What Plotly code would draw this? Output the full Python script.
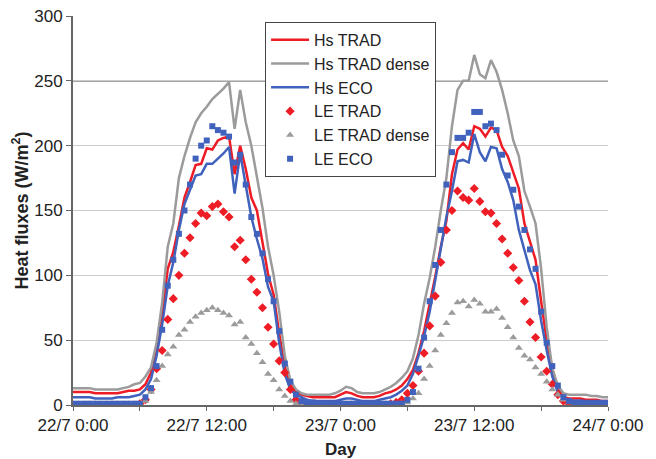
import pandas as pd
import plotly.graph_objects as go

# time axis: half-hourly from 22/7 0:00 to 24/7 0:00
TIME = pd.date_range("2009-07-22 00:00", periods=97, freq="30min")

HS_TRAD = [10,10,10,10,9,9,9,9,9,10,11,11,
           12,16,25,45,70,105,118,138,160,172,185,186,198,197,204,206,207,178,200,182,160,150,127,101,85,55,30,16,10,8,
           7,6,6,6,6,6,
           8,10,9,7,6,6,6,7,
           9,10,12,15,
           20,27,40,57,77,99,122,142,178,197,202,197,215,213,207,214,212,199,192,180,167,140,125,112,80,50,28,13,
           6,5,5,5,4,4,4,3,3]
HS_TRAD_DENSE = [13,13,13,13,12,12,12,12,12,13,14,16,
                 17,22,29,48,79,122,140,175,192,206,218,225,230,236,240,244,249,213,243,218,200,175,152,122,100,72,38,19,12,9,
                 8,8,8,8,8,9,
                 11,14,13,10,9,9,9,10,
                 12,14,17,21,
                 26,36,54,78,98,122,150,175,215,243,250,250,270,255,252,266,257,243,225,204,192,165,153,140,105,60,28,15,
                 9,8,8,8,8,7,7,6,6]
HS_ECO = [6,6,6,6,5,5,5,5,6,6,6,7,
          8,12,20,38,62,92,110,135,155,166,177,178,186,186,190,194,199,163,194,170,145,128,113,91,80,48,24,12,8,6,
          4,3,3,3,3,3,
          4,5,5,4,3,3,3,4,
          5,6,8,11,
          15,24,38,53,72,96,118,145,165,188,189,187,209,195,188,199,198,182,172,158,135,120,104,93,65,42,22,10,
          5,3,3,3,3,3,3,3,3]
LE_TRAD = [0,0,0,0,0,0,0,0,0,0,0,0,
           1,4,12,28,42,66,82,100,117,129,140,148,146,153,155,149,145,122,127,112,97,87,75,60,47,34,25,12,4,1,
           0,0,0,0,0,0,
           0,0,0,0,0,0,0,0,
           0,1,2,4,
           9,15,26,40,61,84,110,135,150,165,160,158,167,157,149,148,140,128,117,106,96,80,64,52,37,26,16,8,
           3,1,0,0,0,0,0,0,0]
LE_TRAD_DENSE = [0,0,0,0,0,0,0,0,0,0,0,0,
                 0,3,10,19,30,39,45,54,58,64,68,71,73,75,73,71,69,62,64,52,47,40,33,24,19,12,7,3,1,0,
                 0,0,0,0,0,0,
                 0,0,0,0,0,0,0,0,
                 0,0,0,1,
                 2,5,9,20,30,42,54,63,71,79,80,76,81,78,72,72,74,67,60,52,44,38,35,29,24,18,12,8,
                 4,2,1,0,0,0,0,0,0]
LE_ECO = [1,1,1,1,1,1,1,1,1,1,1,1,
          1,6,13,30,58,92,112,132,150,170,190,200,204,215,212,210,207,187,193,170,145,132,117,97,80,57,32,18,8,3,
          2,2,1,1,1,1,
          1,1,1,1,1,1,1,1,
          1,1,1,1,
          4,10,28,52,80,108,135,170,195,206,206,210,226,226,215,217,212,193,177,166,153,135,120,105,72,48,30,15,
          6,3,2,2,1,1,1,1,1]

TICK_VALS = ["2009-07-22 00:00", "2009-07-22 12:00", "2009-07-23 00:00",
             "2009-07-23 12:00", "2009-07-24 00:00"]
TICK_TEXT = ["22/7 0:00", "22/7 12:00", "23/7 0:00", "23/7 12:00", "24/7 0:00"]
MINOR_VALS = ["2009-07-22 06:00", "2009-07-22 18:00", "2009-07-23 06:00", "2009-07-23 18:00"]
Y_TICKS = [0, 50, 100, 150, 200, 250, 300]

RED = "#ee1c25"
GRAY = "#9b9b9b"
BLUE = "#4062bd"
FONT = "Liberation Sans, Arial, sans-serif"

fig = go.Figure()
fig.add_trace(go.Scatter(x=TIME, y=HS_TRAD, mode="lines", name="Hs TRAD",
                         line=dict(color=RED, width=2.5), legendgroup="a"))
fig.add_trace(go.Scatter(x=TIME, y=HS_TRAD_DENSE, mode="lines", name="Hs TRAD dense",
                         line=dict(color=GRAY, width=2.5), legendgroup="b"))
fig.add_trace(go.Scatter(x=TIME, y=HS_ECO, mode="lines", name="Hs ECO",
                         line=dict(color=BLUE, width=2.5), legendgroup="c"))
fig.add_trace(go.Scatter(x=TIME, y=LE_TRAD, mode="markers", name="LE TRAD",
                         marker=dict(color=RED, symbol="diamond", size=7), legendgroup="d"))
fig.add_trace(go.Scatter(x=TIME, y=LE_TRAD_DENSE, mode="markers", name="LE TRAD dense",
                         marker=dict(color=GRAY, symbol="triangle-up", size=7), legendgroup="e"))
fig.add_trace(go.Scatter(x=TIME, y=LE_ECO, mode="markers", name="LE ECO",
                         marker=dict(color=BLUE, symbol="square", size=6), legendgroup="f"))

fig.add_shape(type="line", xref="paper", x0=0, x1=1, yref="y", y0=250, y1=250,
              line=dict(color="#4a4a4a", width=1.5), layer="below")

fig.update_layout(
    width=656, height=459,
    margin=dict(l=73, r=48, t=16, b=54, autoexpand=False),
    paper_bgcolor="white", plot_bgcolor="white",
    font=dict(family=FONT, size=17, color="#222222"),
    showlegend=True,
    legend=dict(x=0.359, y=0.985, xanchor="left", yanchor="top",
                bgcolor="white", bordercolor="#444444", borderwidth=1,
                font=dict(size=16, color="#222222"),
                traceorder="grouped", tracegroupgap=0, itemwidth=38),
    xaxis=dict(range=["2009-07-22 00:00", "2009-07-24 00:00"], automargin=False,
               tickmode="array", tickvals=TICK_VALS, ticktext=TICK_TEXT,
               ticks="outside", ticklen=4, tickcolor="#666666",
               minor=dict(tickmode="array", tickvals=MINOR_VALS, ticks="outside",
                          ticklen=4, tickcolor="#666666", showgrid=False),
               showline=True, linecolor="#666666", linewidth=2,
               showgrid=False, zeroline=False,
               tickfont=dict(size=17),
               title=dict(text="<b>Day</b>", font=dict(size=17), standoff=11)),
    yaxis=dict(range=[0, 300], automargin=False,
               tickmode="array", tickvals=Y_TICKS,
               ticks="outside", ticklen=5, tickcolor="#666666",
               showline=True, linecolor="#666666", linewidth=2,
               showgrid=True, gridcolor="#cccccc", gridwidth=1, zeroline=False,
               tickfont=dict(size=17),
               title=dict(text="<b>Heat fluxes (W/m<sup>2</sup>)</b>", font=dict(size=18), standoff=1)),
)

fig.write_html("out.html")
